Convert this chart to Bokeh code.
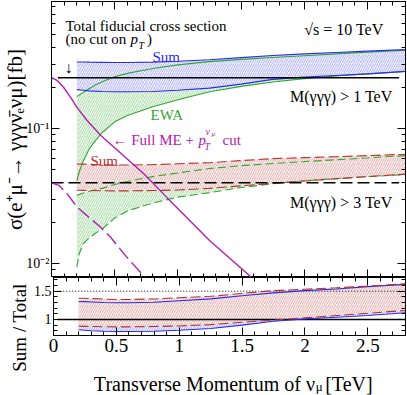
import math
from bokeh.plotting import figure
from bokeh.layouts import column, row
from bokeh.models import Range1d, LinearAxis, LogAxis, FixedTicker
from bokeh.core.properties import value
from bokeh.embed import file_html
from bokeh.resources import INLINE

FONT = "Liberation Serif"

# ---------------- data ----------------
pt = [0.2, 0.25, 0.3, 0.4, 0.5, 0.6, 0.8, 1.0, 1.25, 1.5, 1.75, 2.0, 2.25, 2.5, 2.8]
sum1_hi = [0.311, 0.311, 0.310, 0.309, 0.308, 0.308, 0.310, 0.315, 0.323, 0.335, 0.347, 0.357, 0.366, 0.374, 0.384]
sum1_lo = [0.194, 0.192, 0.190, 0.188, 0.187, 0.187, 0.188, 0.192, 0.199, 0.213, 0.231, 0.240, 0.247, 0.254, 0.265]
sum3_hi = [0.0545, 0.0544, 0.0542, 0.0538, 0.0536, 0.0536, 0.0540, 0.0548, 0.0558, 0.0578, 0.0598, 0.0608, 0.0618, 0.0630, 0.0645]
sum3_lo = [0.0349, 0.0348, 0.0347, 0.0346, 0.0345, 0.0345, 0.0347, 0.0350, 0.0360, 0.0376, 0.0392, 0.0408, 0.0424, 0.0440, 0.0459]

ratio1_hi = [1.318, 1.315, 1.31, 1.30, 1.295, 1.295, 1.305, 1.33, 1.365, 1.42, 1.47, 1.51, 1.54, 1.58, 1.62]
ratio1_lo = [0.818, 0.81, 0.80, 0.792, 0.788, 0.787, 0.792, 0.81, 0.84, 0.90, 0.97, 1.01, 1.04, 1.07, 1.12]
ratio3_hi = [1.376, 1.374, 1.37, 1.36, 1.353, 1.353, 1.363, 1.385, 1.41, 1.46, 1.51, 1.535, 1.56, 1.59, 1.63]
ratio3_lo = [0.882, 0.879, 0.876, 0.872, 0.87, 0.87, 0.876, 0.885, 0.91, 0.95, 0.99, 1.03, 1.07, 1.11, 1.16]

ewa_pt = [0.2, 0.22, 0.25, 0.3, 0.35, 0.4, 0.5, 0.6, 0.8, 1.0, 1.25, 1.5, 1.75, 2.0, 2.25, 2.5, 2.8]
ewa1_hi = [0.1726, 0.177, 0.185, 0.198, 0.211, 0.222, 0.242, 0.256, 0.278, 0.296, 0.313, 0.325, 0.336, 0.346, 0.357, 0.368, 0.380]
ewa1_lo = [0.041, 0.048, 0.057, 0.071, 0.082, 0.093, 0.112, 0.125, 0.145, 0.163, 0.187, 0.205, 0.221, 0.234, 0.245, 0.254, 0.264]
ewa3_hi = [0.0319, 0.0325, 0.0333, 0.0343, 0.0352, 0.0360, 0.0385, 0.0405, 0.0440, 0.0468, 0.0505, 0.0530, 0.0550, 0.0568, 0.0587, 0.0605, 0.0630]
ewa3_lo = [0.0094, 0.0118, 0.0140, 0.0155, 0.0168, 0.0180, 0.0217, 0.0245, 0.0280, 0.0310, 0.0335, 0.0365, 0.0390, 0.0410, 0.0425, 0.0440, 0.0455]

me1_pt = [0.0, 0.045, 0.095, 0.15, 0.2, 0.28, 0.39, 0.73, 0.91, 1.25, 1.7]
me1 = [0.2376, 0.227, 0.202, 0.171, 0.144, 0.115, 0.0888, 0.0462, 0.031, 0.0148, 0.0063]
me3_pt = [0.0, 0.058, 0.124, 0.203, 0.387, 0.466, 0.597, 0.728, 0.85]
me3 = [0.0396, 0.0379, 0.0328, 0.0261, 0.0186, 0.0157, 0.0111, 0.0081, 0.0062]

tot1 = 0.2376
tot1_x = [0.05, 2.75]
tot3 = 0.0396
tot3_x = [0.0, 2.75]
ratio_x = [0.03, 2.8]

xtick_vals = [0, 0.5, 1, 1.5, 2, 2.5]
xtick_labels = ["0", "0.5", "1", "1.5", "2", "2.5"]
x_minor = [round(0.1 * i, 1) for i in range(29)]
ytick_vals = [0.01, 0.1]
ytick_labels = ["10⁻²", "10⁻¹"]
y_minor = [0.008, 0.009] + [0.01 * k for k in range(2, 10)] + [0.1 * k for k in range(2, 9)]
rtick_vals = [1, 1.5]
rtick_labels = ["1", "1.5"]
r_minor = [round(0.1 * k, 1) for k in range(8, 18)]

BLUE = "#2b2bef"
BLUE_H = "#6b6bf2"
RED = "#b8312f"
RED_H = "#c96a66"
GREEN = "#2fa82f"
GREEN_H = "#5cbd5c"
MAG = "#b021b0"
F = value(FONT)


def mk_axis(cls, ticks, minor, labels=None, size="14px", standoff=3):
    ax = cls(ticker=FixedTicker(ticks=ticks, minor_ticks=minor))
    ax.major_tick_in = 8
    ax.major_tick_out = 0
    ax.minor_tick_in = 4
    ax.minor_tick_out = 0
    ax.axis_line_color = "black"
    ax.major_tick_line_color = "black"
    ax.minor_tick_line_color = "black"
    if labels is None:
        ax.major_label_text_font_size = "0px"
        ax.major_label_standoff = 0
        ax.major_label_text_alpha = 0
    else:
        ax.major_label_overrides = {t: l for t, l in zip(ticks, labels)}
        ax.major_label_text_font = FONT
        ax.major_label_text_font_size = size
        ax.major_label_standoff = standoff
        ax.major_label_text_color = "black"
    return ax


def strip(w, h):
    f = figure(width=w, height=h, x_range=Range1d(0, w), y_range=Range1d(0, h),
               x_axis_location=None, y_axis_location=None, output_backend="svg",
               toolbar_location=None, min_border=0, outline_line_color=None,
               background_fill_color="white", border_fill_color="white")
    f.grid.grid_line_color = None
    return f


# ---------------- top panel ----------------
top = figure(width=407, height=277, x_range=Range1d(0, 2.8), y_range=Range1d(0.00787, 0.8725),
             y_axis_type="log", x_axis_location=None, y_axis_location=None,
             output_backend="svg", toolbar_location=None,
             min_border_left=51, min_border_right=2, min_border_top=1, min_border_bottom=0,
             outline_line_color="black", background_fill_color="white", border_fill_color="white")
top.grid.grid_line_color = None
yax = mk_axis(LogAxis, ytick_vals, y_minor, ytick_labels, "14px", 2)
yax.axis_label = "σ(e⁺μ⁻→ γγγν̄ₑνμ)[fb]"
yax.axis_label_text_font = FONT
yax.axis_label_text_font_size = "21px"
yax.axis_label_text_font_style = "normal"
yax.axis_label_text_color = "black"
yax.axis_label_standoff = -4
top.add_layout(yax, "left")
top.add_layout(mk_axis(LogAxis, ytick_vals, y_minor), "right")
top.add_layout(mk_axis(LinearAxis, xtick_vals, x_minor), "below")
top.add_layout(mk_axis(LinearAxis, xtick_vals, x_minor), "above")

hatch = dict(hatch_pattern="/", hatch_scale=4.5, hatch_weight=0.7, hatch_alpha=0.9)
top.varea(x=ewa_pt, y1=ewa1_lo, y2=ewa1_hi, fill_alpha=0, hatch_color=GREEN_H, **hatch)
top.varea(x=ewa_pt, y1=ewa3_lo, y2=ewa3_hi, fill_alpha=0, hatch_color=GREEN_H, **hatch)
top.varea(x=pt, y1=sum1_lo, y2=sum1_hi, fill_color="white", fill_alpha=1, hatch_color=BLUE_H, **hatch)
top.varea(x=pt, y1=sum3_lo, y2=sum3_hi, fill_color="white", fill_alpha=1, hatch_color=RED_H, **hatch)

top.line(ewa_pt, ewa1_hi, line_color=GREEN, line_width=1.1)
top.line(ewa_pt, ewa1_lo, line_color=GREEN, line_width=1.1)
top.line(ewa_pt, ewa3_hi, line_color=GREEN, line_width=1.1, line_dash="8 4")
top.line(ewa_pt, ewa3_lo, line_color=GREEN, line_width=1.1, line_dash="8 4")
top.line(pt, sum1_hi, line_color=BLUE, line_width=1.1)
top.line(pt, sum1_lo, line_color=BLUE, line_width=1.1)
top.line(pt, sum3_hi, line_color=RED, line_width=1.1, line_dash="10 4")
top.line(pt, sum3_lo, line_color=RED, line_width=1.1, line_dash="10 4")

top.line(tot1_x, [tot1, tot1], line_color="black", line_width=1.4)
top.line(tot3_x, [tot3, tot3], line_color="black", line_width=1.4, line_dash="12 5")
top.line(me1_pt, me1, line_color=MAG, line_width=1.4)
top.line(me3_pt, me3, line_color=MAG, line_width=1.4, line_dash="14 5")

# annotation texts
top.text(x=[0.1107], y=[0.579], text=["Total fiducial cross section"], text_font=F,
         text_font_size="15px", text_color="black", text_baseline="alphabetic")
top.text(x=[0.1107, 0.1107], y=[0.464, 0.464], x_offset=[0, 81.5], text=["(no cut on ", ")"],
         text_font=F, text_font_size="15px", text_color="black", text_baseline="alphabetic")
top.text(x=[0.1107], y=[0.464], x_offset=[65], text=["p"], text_font=F, text_font_size="15px",
         text_font_style="italic", text_color="black", text_baseline="alphabetic")
top.text(x=[0.1107], y=[0.412], x_offset=[73], text=["T"], text_font=F, text_font_size="10px",
         text_font_style="italic", text_color="black", text_baseline="alphabetic")
top.text(x=[0.1345], y=[0.2834], text=["↓"], text_font=F, text_font_size="16px",
         text_color="black", text_align="center", text_baseline="middle")
top.text(x=[2.626], y=[0.5414], text=["√s = 10 TeV"], text_font=F, text_font_size="16px",
         text_color="black", text_align="right", text_baseline="alphabetic")
top.text(x=[2.697, 2.697], y=[0.1726, 0.0283], text=["M(γγγ) > 1 TeV", "M(γγγ) > 3 TeV"],
         text_font=F, text_font_size="16px", text_color="black", text_align="right",
         text_baseline="alphabetic")
top.text(x=[0.799], y=[0.3357], text=["Sum"], text_font=F, text_font_size="15px",
         text_color=BLUE, text_baseline="alphabetic")
top.text(x=[0.3085], y=[0.0570], text=["Sum"], text_font=F, text_font_size="15px",
         text_color=RED, text_baseline="alphabetic")
top.text(x=[0.783], y=[0.1248], text=["EWA"], text_font=F, text_font_size="15px",
         text_color=GREEN, text_baseline="alphabetic")
top.text(x=[0.4825, 0.4825], y=[0.0815, 0.0815], x_offset=[0, 110], text=["← Full ME + ", "cut"],
         text_font=F, text_font_size="15px", text_color=MAG, text_baseline="alphabetic")
top.text(x=[0.4825], y=[0.0815], x_offset=[86], text=["p"], text_font=F, text_font_size="15px",
         text_font_style="italic", text_color=MAG, text_baseline="alphabetic")
top.text(x=[0.4825, 0.4825], y=[0.0736, 0.0950], x_offset=[92, 93], text=["T", "ν"],
         text_font=F, text_font_size="10px", text_font_style="italic", text_color=MAG,
         text_baseline="alphabetic")
top.text(x=[0.4825], y=[0.0903], x_offset=[99], text=["μ"], text_font=F, text_font_size="7px",
         text_font_style="italic", text_color=MAG, text_baseline="alphabetic")

# ---------------- ratio panel ----------------
bot = figure(width=377, height=88, x_range=top.x_range, y_range=Range1d(0.717, 1.742),
             x_axis_location=None, y_axis_location=None,
             output_backend="svg", toolbar_location=None,
             min_border_left=21, min_border_right=2, min_border_top=0, min_border_bottom=30,
             outline_line_color="black", background_fill_color="white", border_fill_color="white")
bot.grid.grid_line_color = None
bot.add_layout(mk_axis(LinearAxis, rtick_vals, r_minor, rtick_labels, "14px", 2), "left")
bot.add_layout(mk_axis(LinearAxis, rtick_vals, r_minor), "right")
bot.add_layout(mk_axis(LinearAxis, xtick_vals, x_minor, xtick_labels, "19px", 3), "below")
bot.add_layout(mk_axis(LinearAxis, xtick_vals, x_minor), "above")

bot.varea(x=pt, y1=ratio1_lo, y2=ratio1_hi, fill_color="white", fill_alpha=1, hatch_color=BLUE_H, **hatch)
bot.varea(x=pt, y1=ratio3_lo, y2=ratio3_hi, fill_color="white", fill_alpha=1, hatch_color=RED_H, **hatch)
bot.line(ratio_x, [1.5, 1.5], line_color="black", line_width=1, line_dash="1 2")
bot.line(ratio_x, [1, 1], line_color="black", line_width=1.4)
bot.line(pt, ratio1_hi, line_color=BLUE, line_width=1.1)
bot.line(pt, ratio1_lo, line_color=BLUE, line_width=1.1)
bot.line(pt, ratio3_hi, line_color=RED, line_width=1.1, line_dash="10 4")
bot.line(pt, ratio3_lo, line_color=RED, line_width=1.1, line_dash="10 4")

# left strip with the ratio title
ls = strip(30, 118)
ls.text(x=[19], y=[68], text=["Sum / Total"], angle=math.pi / 2, text_font=F,
        text_font_size="19px", text_color="black", text_align="center", text_baseline="middle")

# bottom strip with the x title (nu with subscript mu)
xt = strip(377, 30)
xt.text(x=[280], y=[12], text=["Transverse Momentum of ν"], text_font=F,
        text_font_size="20px", text_color="black", text_align="right", text_baseline="alphabetic")
xt.text(x=[281, 291], y=[9, 12], text=["μ", "[TeV]"], text_font=F,
        text_font_size=["13px", "20px"], text_color="black", text_baseline="alphabetic")

p = column(top, row(ls, column(bot, xt, spacing=0), spacing=0), spacing=0)
open("out.html", "w").write(file_html(p, INLINE))
